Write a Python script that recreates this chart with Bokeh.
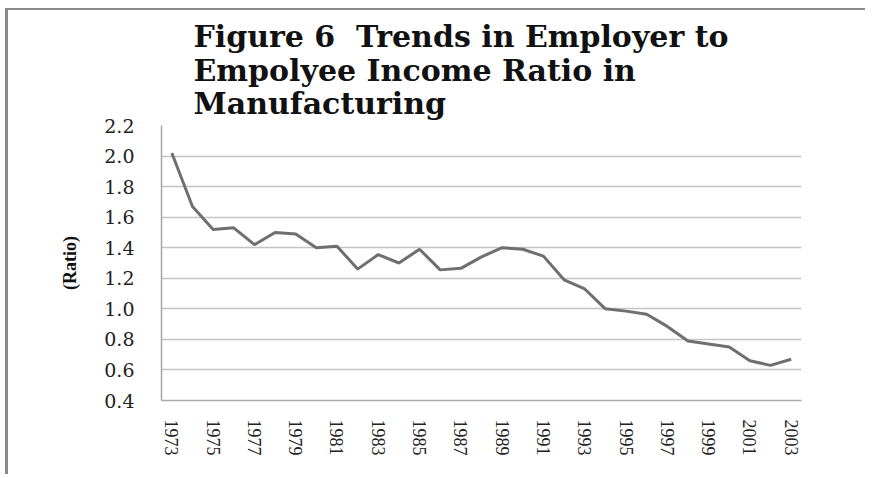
from bokeh.plotting import figure
from bokeh.models import Range1d, FixedTicker
from bokeh.embed import file_html
from bokeh.resources import INLINE

years = list(range(1973, 2004))
ratio = [2.02, 1.67, 1.52, 1.53, 1.42, 1.50, 1.49, 1.40, 1.41, 1.26,
         1.355, 1.30, 1.39, 1.255, 1.265, 1.34, 1.40, 1.39, 1.345, 1.19,
         1.13, 1.00, 0.985, 0.965, 0.885, 0.79, 0.77, 0.75, 0.66, 0.63, 0.67]
y_ticks = [0.4, 0.6, 0.8, 1.0, 1.2, 1.4, 1.6, 1.8, 2.0, 2.2]
x_ticks = list(range(1973, 2004, 2))
title_text = "Figure 6\u00a0 Trends in Employer to\nEmpolyee Income Ratio in\nManufacturing"
y_label = "(Ratio)"

p = figure(width=860, height=466, output_backend="svg", toolbar_location=None,
           x_range=Range1d(1972.5, 2003.5), y_range=Range1d(0.4, 2.2),
           min_border_left=153, min_border_right=67, min_border_top=115,
           min_border_bottom=76)
p.styles = {"border-left": "3px solid #8a8a8a", "border-top": "2px solid #8a8a8a",
            "margin-left": "5px", "margin-top": "8px"}

p.title.text = title_text
p.title.text_font = "DejaVu Serif"
p.title.text_font_style = "bold"
p.title.text_font_size = "30px"
p.title.align = "left"
p.title.offset = 32
p.title.standoff = 8
p.title.text_line_height = 0.96
p.title.text_color = "#111111"

p.line(years, ratio, line_color="#6f6f6f", line_width=3)

p.outline_line_color = None
p.background_fill_color = "white"
p.border_fill_color = "white"

p.xgrid.grid_line_color = None
p.ygrid.grid_line_color = "#c4c4c4"
p.ygrid.grid_line_width = 1.5

ya = p.yaxis[0]
ya.ticker = FixedTicker(ticks=y_ticks)
ya.major_label_overrides = {t: f"{t:.1f}" for t in y_ticks}
ya.major_tick_in = 0
ya.major_tick_out = 0
ya.minor_tick_in = 0
ya.minor_tick_out = 0
ya.major_label_standoff = 27
ya.major_label_text_font = "DejaVu Serif"
ya.major_label_text_font_size = "19px"
ya.major_label_text_color = "#222222"
ya.axis_line_color = "#a8a8a8"
ya.axis_line_width = 1.5
ya.axis_label = y_label
ya.axis_label_text_font = "Liberation Serif"
ya.axis_label_text_font_style = "bold"
ya.axis_label_text_font_size = "18px"
ya.axis_label_text_color = "#111111"
ya.axis_label_standoff = 21

xa = p.xaxis[0]
xa.ticker = FixedTicker(ticks=x_ticks)
xa.major_label_orientation = "vertical"
xa.major_tick_in = 0
xa.major_tick_out = 0
xa.minor_tick_in = 0
xa.minor_tick_out = 0
xa.major_label_standoff = 19
xa.major_label_text_font = "Liberation Serif"
xa.major_label_text_font_size = "18px"
xa.major_label_text_color = "#222222"
xa.axis_line_color = "#a8a8a8"
xa.axis_line_width = 1.5

open("out.html", "w").write(file_html(p, INLINE))
